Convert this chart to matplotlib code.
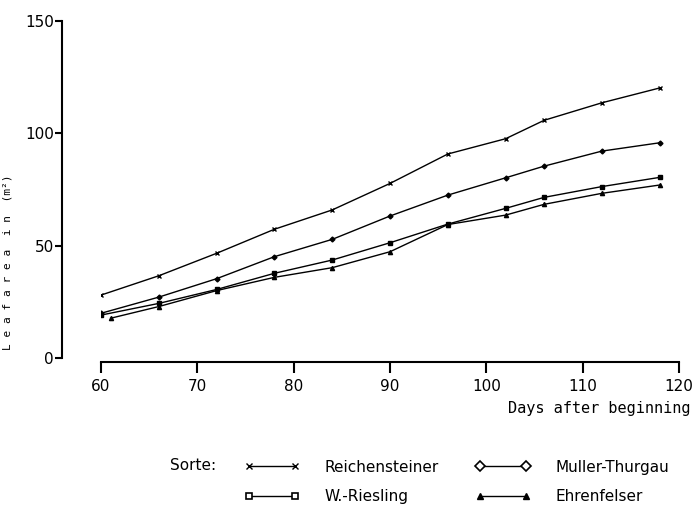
import matplotlib
matplotlib.use("Agg")
import matplotlib.pyplot as plt
from matplotlib.lines import Line2D

plt.rcParams['font.family'] = ['DejaVu Sans']

days = [60, 66, 72, 78, 84, 90, 96, 102, 106, 112, 118]
days_ehr = [61, 66, 72, 78, 84, 90, 96, 102, 106, 112, 118]
reichensteiner = [28.0, 36.6, 46.6, 57.3, 65.9, 77.7, 90.8, 97.6, 105.8, 113.6, 120.2]
muller_thurgau = [19.9, 27.1, 35.3, 45.1, 52.8, 63.2, 72.5, 80.2, 85.4, 92.1, 95.8]
w_riesling = [19.1, 24.3, 30.5, 37.7, 43.6, 51.3, 59.6, 66.6, 71.5, 76.3, 80.4]
ehrenfelser = [17.7, 22.9, 30.0, 35.9, 40.2, 47.3, 59.4, 63.6, 68.4, 73.3, 77.0]

xticks = [60, 70, 80, 90, 100, 110, 120]
yticks = [0, 50, 100, 150]

fig = plt.figure(figsize=(6.92, 5.13), dpi=100)
ax = fig.add_axes([101/692, 155/513, 578/692, 337/513])

ax.plot(days, reichensteiner, color='black', lw=1, marker='x', ms=3, mew=1)
ax.plot(days, w_riesling, color='black', lw=1, marker='s', ms=2.5, mfc='black')
ax.plot(days, muller_thurgau, color='black', lw=1, marker='D', ms=2.5, mfc='black')
ax.plot(days_ehr, ehrenfelser, color='black', lw=1, marker='^', ms=3, mfc='black')

ax.set_xlim(60, 120)
ax.set_ylim(0, 150)
ax.set_xticks(xticks)
ax.set_yticks(yticks)
ax.spines['top'].set_visible(False)
ax.spines['right'].set_visible(False)
ax.spines['left'].set_position(('outward', 28))
ax.spines['bottom'].set_position(('outward', 3))
ax.spines['left'].set_linewidth(1.5)
ax.spines['bottom'].set_linewidth(1.5)
ax.tick_params(axis='y', direction='out', length=5, width=1.5, labelsize=11, pad=1)
ax.tick_params(axis='x', direction='out', length=8, width=1.5, labelsize=11, pad=4)

fig.text(690/692, 1 - 409/513, "Days after beginning", ha='right', va='center',
         family='DejaVu Sans Mono', fontsize=11)
fig.text(8/692, 1 - 262/513, "L e a f a r e a  i n  (m²)", rotation=90, ha='center', va='center',
         family='DejaVu Sans Mono', fontsize=8)

h1 = Line2D([], [], color='black', lw=1, marker='x', ms=5, mew=1)
h2 = Line2D([], [], color='black', lw=1, marker='D', ms=5, mfc='white', mew=1.2)
h3 = Line2D([], [], color='black', lw=1, marker='s', ms=5, mfc='white', mew=1.2)
h4 = Line2D([], [], color='black', lw=1, marker='^', ms=5, mfc='black')
fig.legend([h1, h3, h2, h4], ["Reichensteiner", "W.-Riesling", "Muller-Thurgau", "Ehrenfelser"],
           ncol=2, frameon=False, loc='upper left', bbox_to_anchor=(231/692, 1 - 446/513),
           handlelength=3.6, numpoints=2, fontsize=11, columnspacing=2.45, labelspacing=0.95,
           handletextpad=1.6)
fig.text(170/692, 1 - 465/513, "Sorte:", ha='left', va='center', fontsize=11)

fig.savefig("out.png", dpi=100)
